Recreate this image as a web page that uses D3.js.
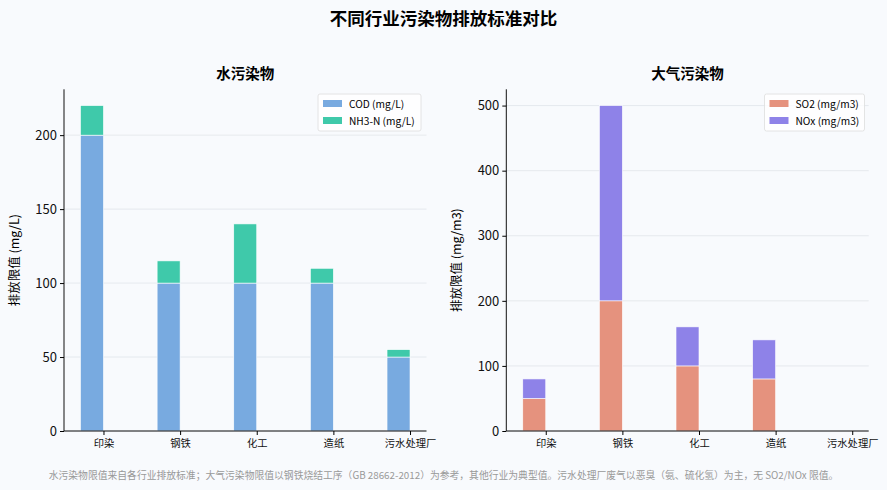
<!DOCTYPE html>
<html>
<head>
<meta charset="utf-8">
<script src="https://cdn.jsdelivr.net/npm/d3@7"></script>
<style>
body { margin: 0; background: #f8fafd; }
text { font-family: "Noto Sans CJK SC", "Noto Sans", sans-serif; }
</style>
</head>
<body>
<div id="chart"></div>
<script>
// data
var industries = ["印染", "钢铁", "化工", "造纸", "污水处理厂"];
var cod = [200, 100, 100, 100, 50];
var nh3n = [20, 15, 40, 10, 5];
var so2 = [50, 200, 100, 80, 0];
var nox = [30, 300, 60, 60, 0];
var waterTicks = [0, 50, 100, 150, 200];
var airTicks = [0, 100, 200, 300, 400, 500];

var W = 887, H = 490;
var barW = 0.3;

var svg = d3.select("#chart").append("svg")
	.attr("width", W).attr("height", H);

svg.append("rect").attr("width", W).attr("height", H).attr("fill", "#f8fafd");

svg.append("text")
	.attr("x", W / 2).attr("y", 25)
	.attr("text-anchor", "middle")
	.attr("font-size", "17.5px").attr("font-weight", "bold")
	.text("不同行业污染物排放标准对比");

svg.append("text")
	.attr("x", W / 2).attr("y", 479)
	.attr("text-anchor", "middle")
	.attr("font-size", "9.8px").attr("fill", "#999")
	.text("水污染物限值来自各行业排放标准；大气污染物限值以钢铁烧结工序（GB 28662-2012）为参考，其他行业为典型值。污水处理厂废气以恶臭（氨、硫化氢）为主，无 SO2/NOx 限值。");

function panel(opt) {
	var left = opt.left, right = opt.right, top = 89.3, bottom = 431;
	var g = svg.append("g");

	var total = opt.lower.map(function(v, i) { return v + opt.upper[i]; });
	var ymax = d3.max(total) * 1.05;
	var y = d3.scaleLinear().domain([0, ymax]).range([bottom, top]);
	// positions -0.3 .. 4 with 5% margins like matplotlib
	var lo = -barW, hi = industries.length - 1, pad = (hi - lo) * 0.05;
	var x = d3.scaleLinear().domain([lo - pad, hi + pad]).range([left, right]);

	// grid
	g.selectAll(".grid").data(opt.ticks).enter().append("line")
		.attr("x1", left).attr("x2", right)
		.attr("y1", function(d) { return y(d); }).attr("y2", function(d) { return y(d); })
		.attr("stroke", "#e1e5ea").attr("stroke-width", 0.8);

	// bars
	var rows = industries.map(function(name, i) {
		return {i: i, a: opt.lower[i], b: opt.upper[i]};
	});
	g.selectAll(".lo").data(rows).enter().append("rect")
		.attr("x", function(d) { return x(d.i - barW); })
		.attr("width", function(d) { return x(d.i) - x(d.i - barW); })
		.attr("y", function(d) { return y(d.a); })
		.attr("height", function(d) { return y(0) - y(d.a); })
		.attr("fill", opt.colors[0])
		.attr("stroke", "#fff").attr("stroke-width", 0.6)
		.style("display", function(d) { return d.a > 0 ? null : "none"; });
	g.selectAll(".up").data(rows).enter().append("rect")
		.attr("x", function(d) { return x(d.i - barW); })
		.attr("width", function(d) { return x(d.i) - x(d.i - barW); })
		.attr("y", function(d) { return y(d.a + d.b); })
		.attr("height", function(d) { return y(d.a) - y(d.a + d.b); })
		.attr("fill", opt.colors[1])
		.attr("stroke", "#fff").attr("stroke-width", 0.6)
		.style("display", function(d) { return d.b > 0 ? null : "none"; });

	// axes
	var yAxis = d3.axisLeft(y).tickValues(opt.ticks).tickSize(4).tickPadding(3);
	var ya = g.append("g").attr("transform", "translate(" + left + ",0)").call(yAxis);
	ya.selectAll("text").attr("font-size", "13px").attr("fill", "#111");
	ya.select(".domain").attr("d", "M0," + bottom + "V" + top);

	var xAxis = d3.axisBottom(x).tickValues(d3.range(industries.length))
		.tickFormat(function(d) { return industries[d]; }).tickSize(4).tickPadding(5);
	var xa = g.append("g").attr("transform", "translate(0," + bottom + ")").call(xAxis);
	xa.selectAll("text").attr("font-size", "10.3px").attr("fill", "#111");
	xa.select(".domain").attr("d", "M" + left + ",0H" + right);
	g.selectAll(".domain").attr("stroke", "#111");

	g.append("text")
		.attr("x", (left + right) / 2).attr("y", 79)
		.attr("text-anchor", "middle")
		.attr("font-size", "14.5px").attr("font-weight", "bold")
		.text(opt.title);

	g.append("text")
		.attr("transform", "translate(" + opt.labelX + "," + ((top + bottom) / 2) + ") rotate(-90)")
		.attr("text-anchor", "middle")
		.attr("font-size", "12.5px")
		.text(opt.ylabel);

	// legend
	var lg = g.append("g").attr("transform", "translate(" + opt.legX + ",94)");
	lg.append("rect").attr("width", opt.legW).attr("height", 37).attr("rx", 2)
		.attr("fill", "#fff").attr("fill-opacity", 0.8)
		.attr("stroke", "#ddd").attr("stroke-width", 0.8);
	opt.names.forEach(function(n, k) {
		lg.append("rect").attr("x", 5).attr("y", 6 + k * 17).attr("width", 19).attr("height", 7)
			.attr("fill", opt.colors[k]);
		lg.append("text").attr("x", 31).attr("y", 13.5 + k * 17)
			.attr("font-size", "10.2px").text(n);
	});
}

panel({
	left: 64, right: 426.5, lower: cod, upper: nh3n, ticks: waterTicks,
	colors: ["#78aae0", "#3fc9aa"], names: ["COD (mg/L)", "NH3-N (mg/L)"],
	title: "水污染物", ylabel: "排放限值 (mg/L)", labelX: 19, legX: 318, legW: 103
});
panel({
	left: 506.3, right: 868.7, lower: so2, upper: nox, ticks: airTicks,
	colors: ["#e5927e", "#8e82e8"], names: ["SO2 (mg/m3)", "NOx (mg/m3)"],
	title: "大气污染物", ylabel: "排放限值 (mg/m3)", labelX: 461, legX: 764.5, legW: 100
});
</script>
</body>
</html>
